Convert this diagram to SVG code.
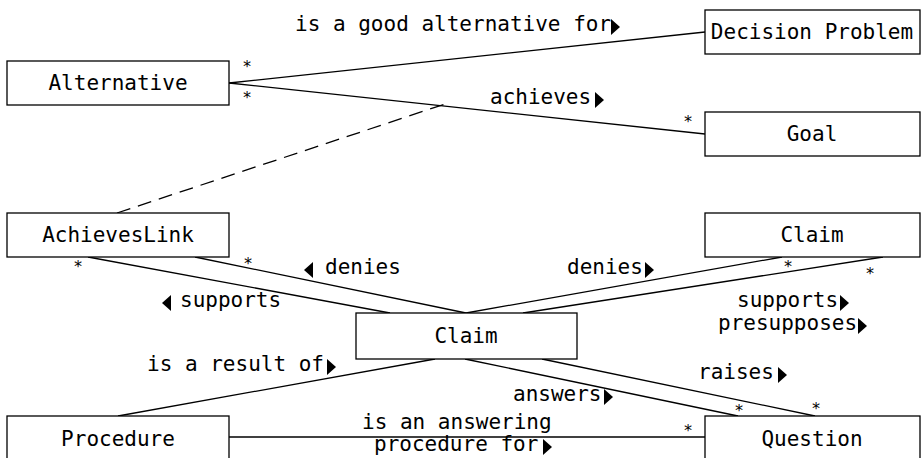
<svg xmlns="http://www.w3.org/2000/svg" width="923" height="458" viewBox="0 0 923 458">
<style>
.box{fill:#fff;stroke:#000;stroke-width:1.3}
.t{font-family:"DejaVu Sans Mono",monospace;font-size:21px;fill:#000}
.m{font-family:"DejaVu Sans Mono",monospace;font-size:16px;fill:#000;text-anchor:middle}
.c{text-anchor:middle}
.ln{stroke:#000;stroke-width:1.3;fill:none}
.dash{stroke-dasharray:14,8}
.tri{fill:#000}
</style>
<rect width="923" height="458" fill="#fff"/>
<g id="connectors">
<line class="ln" x1="229" y1="83" x2="705" y2="32"/>
<line class="ln" x1="229" y1="83" x2="705" y2="134"/>
<line class="ln dash" x1="117" y1="213" x2="448" y2="103"/>
<line class="ln" x1="88" y1="257" x2="390" y2="313"/>
<line class="ln" x1="195" y1="257" x2="466" y2="313"/>
<line class="ln" x1="466" y1="313" x2="782" y2="257"/>
<line class="ln" x1="523" y1="313" x2="883" y2="257"/>
<line class="ln" x1="435" y1="359" x2="118" y2="416"/>
<line class="ln" x1="465" y1="359" x2="738" y2="416"/>
<line class="ln" x1="542" y1="359" x2="815" y2="416"/>
<line class="ln" x1="229" y1="437" x2="705" y2="437"/>
</g>
<g id="labels">
<text class="t" x="295" y="31">is a good alternative for</text>
<polygon class="tri" points="611,19 620,27 611,35"/>
<text class="t" x="490" y="104">achieves</text>
<polygon class="tri" points="595,92 604,100 595,108"/>
<polygon class="tri" points="313,262 304,270 313,278"/>
<text class="t" x="325" y="274">denies</text>
<text class="t" x="567" y="274">denies</text>
<polygon class="tri" points="645,262 654,270 645,278"/>
<polygon class="tri" points="171,295 162,303 171,311"/>
<text class="t" x="180" y="307">supports</text>
<text class="t" x="737" y="307">supports</text>
<polygon class="tri" points="840,295 849,303 840,311"/>
<text class="t" x="718" y="330">presupposes</text>
<polygon class="tri" points="858,318 867,326 858,334"/>
<text class="t" x="147" y="371">is a result of</text>
<polygon class="tri" points="327,359 336,367 327,375"/>
<text class="t" x="698" y="379">raises</text>
<polygon class="tri" points="778,367 787,375 778,383"/>
<text class="t" x="513" y="401">answers</text>
<polygon class="tri" points="604,389 613,397 604,405"/>
<text class="t" x="362" y="429">is an answering</text>
<text class="t" x="374" y="451">procedure for</text>
<polygon class="tri" points="543,439 552,447 543,455"/>
</g>
<g id="multiplicities">
<text class="m" x="247" y="72">*</text>
<text class="m" x="247" y="103">*</text>
<text class="m" x="688" y="127">*</text>
<text class="m" x="78" y="272">*</text>
<text class="m" x="248" y="269">*</text>
<text class="m" x="788" y="272">*</text>
<text class="m" x="870" y="279">*</text>
<text class="m" x="739" y="416">*</text>
<text class="m" x="816" y="414">*</text>
<text class="m" x="688" y="436">*</text>
</g>
<g id="node-alternative"><rect class="box" x="7" y="61" width="222" height="44"/><text class="t c" x="118" y="90">Alternative</text></g>
<g id="node-decision-problem"><rect class="box" x="705" y="10" width="215" height="44"/><text class="t c" x="812" y="39">Decision Problem</text></g>
<g id="node-goal"><rect class="box" x="705" y="112" width="215" height="44"/><text class="t c" x="812" y="141">Goal</text></g>
<g id="node-achieveslink"><rect class="box" x="7" y="213" width="222" height="44"/><text class="t c" x="118" y="242">AchievesLink</text></g>
<g id="node-claim-right"><rect class="box" x="705" y="213" width="215" height="44"/><text class="t c" x="812" y="242">Claim</text></g>
<g id="node-claim-center"><rect class="box" x="356" y="313" width="221" height="46"/><text class="t c" x="466" y="343">Claim</text></g>
<g id="node-procedure"><rect class="box" x="7" y="416" width="222" height="46"/><text class="t c" x="118" y="446">Procedure</text></g>
<g id="node-question"><rect class="box" x="705" y="416" width="215" height="46"/><text class="t c" x="812" y="446">Question</text></g>
</svg>
